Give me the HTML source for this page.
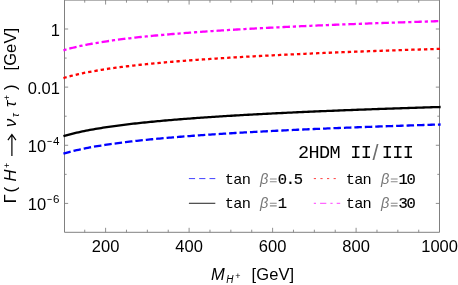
<!DOCTYPE html>
<html><head><meta charset="utf-8"><title>plot</title>
<style>
html,body{margin:0;padding:0;background:#ffffff;}
body{width:458px;height:285px;overflow:hidden;font-family:"Liberation Sans",sans-serif;}
svg{display:block;}
text{font-family:"Liberation Sans",sans-serif;fill:#000;}
.mono{font-family:"Liberation Mono",monospace;}
#wrap{width:458px;height:285px;will-change:transform;background:#ffffff;}
</style></head><body>
<div id="wrap">
<svg width="458" height="285" viewBox="0 0 458 285">
<rect x="0" y="0" width="458" height="285" fill="#ffffff"/>

<defs><clipPath id="c"><rect x="63.45" y="0" width="377.05" height="232.30"/></clipPath></defs>
<g stroke="#696969" stroke-width="0.85" fill="none" >
<path d="M64.5,0.1 H439.5 V232.3 H64.5 Z"/>
</g>
<g stroke="#7c7c7c" stroke-width="0.85" fill="none">
<path d="M84.72,232.30 v-2.60 M84.72,0.05 v2.60"/>
<path d="M105.60,232.30 v-4.50 M105.60,0.05 v4.50"/>
<path d="M126.47,232.30 v-2.60 M126.47,0.05 v2.60"/>
<path d="M147.35,232.30 v-2.60 M147.35,0.05 v2.60"/>
<path d="M168.22,232.30 v-2.60 M168.22,0.05 v2.60"/>
<path d="M189.10,232.30 v-4.50 M189.10,0.05 v4.50"/>
<path d="M209.97,232.30 v-2.60 M209.97,0.05 v2.60"/>
<path d="M230.85,232.30 v-2.60 M230.85,0.05 v2.60"/>
<path d="M251.72,232.30 v-2.60 M251.72,0.05 v2.60"/>
<path d="M272.60,232.30 v-4.50 M272.60,0.05 v4.50"/>
<path d="M293.48,232.30 v-2.60 M293.48,0.05 v2.60"/>
<path d="M314.35,232.30 v-2.60 M314.35,0.05 v2.60"/>
<path d="M335.23,232.30 v-2.60 M335.23,0.05 v2.60"/>
<path d="M356.10,232.30 v-4.50 M356.10,0.05 v4.50"/>
<path d="M376.98,232.30 v-2.60 M376.98,0.05 v2.60"/>
<path d="M397.85,232.30 v-2.60 M397.85,0.05 v2.60"/>
<path d="M418.73,232.30 v-2.60 M418.73,0.05 v2.60"/>
<path d="M64.45,29.00 h3.70 M439.50,29.00 h-3.70"/>
<path d="M64.45,58.07 h2.20 M439.50,58.07 h-2.20"/>
<path d="M64.45,87.14 h3.70 M439.50,87.14 h-3.70"/>
<path d="M64.45,116.21 h2.20 M439.50,116.21 h-2.20"/>
<path d="M64.45,145.28 h3.70 M439.50,145.28 h-3.70"/>
<path d="M64.45,174.35 h2.20 M439.50,174.35 h-2.20"/>
<path d="M64.45,203.42 h3.70 M439.50,203.42 h-3.70"/>
</g>
<g fill="none" stroke-width="2.30" stroke-linejoin="round">
<path d="M63.43,153.72 L65.32,153.15 L67.20,152.61 L69.09,152.09 L70.98,151.60 L72.86,151.12 L74.75,150.66 L76.63,150.21 L78.52,149.78 L80.41,149.37 L82.29,148.97 L84.18,148.58 L86.07,148.20 L87.95,147.83 L89.84,147.47 L91.72,147.13 L93.61,146.79 L95.50,146.46 L97.38,146.14 L99.27,145.83 L101.15,145.52 L103.04,145.23 L104.93,144.93 L106.81,144.65 L108.70,144.37 L110.58,144.10 L112.47,143.83 L114.36,143.57 L116.24,143.32 L118.13,143.07 L120.01,142.82 L121.90,142.58 L123.79,142.34 L125.67,142.11 L127.56,141.88 L129.44,141.66 L131.33,141.44 L133.22,141.22 L135.10,141.01 L136.99,140.80 L138.87,140.60 L140.76,140.39 L142.65,140.20 L144.53,140.00 L146.42,139.81 L148.31,139.62 L150.19,139.43 L152.08,139.24 L153.96,139.06 L155.85,138.88 L157.74,138.71 L159.62,138.53 L161.51,138.36 L163.39,138.19 L165.28,138.02 L167.17,137.86 L169.05,137.69 L170.94,137.53 L172.82,137.37 L174.71,137.22 L176.60,137.06 L178.48,136.91 L180.37,136.76 L182.25,136.61 L184.14,136.46 L186.03,136.31 L187.91,136.17 L189.80,136.03 L191.68,135.89 L193.57,135.75 L195.46,135.61 L197.34,135.47 L199.23,135.34 L201.11,135.20 L203.00,135.07 L204.89,134.94 L206.77,134.81 L208.66,134.68 L210.54,134.55 L212.43,134.43 L214.32,134.30 L216.20,134.18 L218.09,134.06 L219.98,133.94 L221.86,133.82 L223.75,133.70 L225.63,133.58 L227.52,133.47 L229.41,133.35 L231.29,133.24 L233.18,133.12 L235.06,133.01 L236.95,132.90 L238.84,132.79 L240.72,132.68 L242.61,132.57 L244.49,132.46 L246.38,132.36 L248.27,132.25 L250.15,132.15 L252.04,132.04 L253.92,131.94 L255.81,131.84 L257.70,131.74 L259.58,131.63 L261.47,131.53 L263.35,131.44 L265.24,131.34 L267.13,131.24 L269.01,131.14 L270.90,131.05 L272.78,130.95 L274.67,130.86 L276.56,130.76 L278.44,130.67 L280.33,130.58 L282.22,130.49 L284.10,130.39 L285.99,130.30 L287.87,130.21 L289.76,130.12 L291.65,130.04 L293.53,129.95 L295.42,129.86 L297.30,129.77 L299.19,129.69 L301.08,129.60 L302.96,129.52 L304.85,129.43 L306.73,129.35 L308.62,129.26 L310.51,129.18 L312.39,129.10 L314.28,129.02 L316.16,128.94 L318.05,128.86 L319.94,128.78 L321.82,128.70 L323.71,128.62 L325.59,128.54 L327.48,128.46 L329.37,128.38 L331.25,128.30 L333.14,128.23 L335.02,128.15 L336.91,128.08 L338.80,128.00 L340.68,127.93 L342.57,127.85 L344.45,127.78 L346.34,127.70 L348.23,127.63 L350.11,127.56 L352.00,127.48 L353.89,127.41 L355.77,127.34 L357.66,127.27 L359.54,127.20 L361.43,127.13 L363.32,127.06 L365.20,126.99 L367.09,126.92 L368.97,126.85 L370.86,126.78 L372.75,126.71 L374.63,126.65 L376.52,126.58 L378.40,126.51 L380.29,126.45 L382.18,126.38 L384.06,126.31 L385.95,126.25 L387.83,126.18 L389.72,126.12 L391.61,126.05 L393.49,125.99 L395.38,125.92 L397.26,125.86 L399.15,125.80 L401.04,125.73 L402.92,125.67 L404.81,125.61 L406.69,125.55 L408.58,125.49 L410.47,125.42 L412.35,125.36 L414.24,125.30 L416.13,125.24 L418.01,125.18 L419.90,125.12 L421.78,125.06 L423.67,125.00 L425.56,124.94 L427.44,124.88 L429.33,124.83 L431.21,124.77 L433.10,124.71 L434.99,124.65 L436.87,124.59 L438.76,124.54 L440.64,124.48" stroke="#0000ff" stroke-dasharray="7.5 2.95"/>
<path d="M63.43,136.21 L65.32,135.65 L67.20,135.11 L69.09,134.59 L70.98,134.10 L72.86,133.62 L74.75,133.16 L76.63,132.71 L78.52,132.28 L80.41,131.87 L82.29,131.46 L84.18,131.07 L86.07,130.70 L87.95,130.33 L89.84,129.97 L91.72,129.63 L93.61,129.29 L95.50,128.96 L97.38,128.64 L99.27,128.33 L101.15,128.02 L103.04,127.72 L104.93,127.43 L106.81,127.15 L108.70,126.87 L110.58,126.60 L112.47,126.33 L114.36,126.07 L116.24,125.82 L118.13,125.57 L120.01,125.32 L121.90,125.08 L123.79,124.84 L125.67,124.61 L127.56,124.38 L129.44,124.16 L131.33,123.94 L133.22,123.72 L135.10,123.51 L136.99,123.30 L138.87,123.10 L140.76,122.89 L142.65,122.69 L144.53,122.50 L146.42,122.30 L148.31,122.11 L150.19,121.93 L152.08,121.74 L153.96,121.56 L155.85,121.38 L157.74,121.20 L159.62,121.03 L161.51,120.86 L163.39,120.69 L165.28,120.52 L167.17,120.36 L169.05,120.19 L170.94,120.03 L172.82,119.87 L174.71,119.72 L176.60,119.56 L178.48,119.41 L180.37,119.26 L182.25,119.11 L184.14,118.96 L186.03,118.81 L187.91,118.67 L189.80,118.53 L191.68,118.38 L193.57,118.24 L195.46,118.11 L197.34,117.97 L199.23,117.83 L201.11,117.70 L203.00,117.57 L204.89,117.44 L206.77,117.31 L208.66,117.18 L210.54,117.05 L212.43,116.93 L214.32,116.80 L216.20,116.68 L218.09,116.56 L219.98,116.44 L221.86,116.32 L223.75,116.20 L225.63,116.08 L227.52,115.96 L229.41,115.85 L231.29,115.73 L233.18,115.62 L235.06,115.51 L236.95,115.40 L238.84,115.29 L240.72,115.18 L242.61,115.07 L244.49,114.96 L246.38,114.85 L248.27,114.75 L250.15,114.64 L252.04,114.54 L253.92,114.44 L255.81,114.33 L257.70,114.23 L259.58,114.13 L261.47,114.03 L263.35,113.93 L265.24,113.84 L267.13,113.74 L269.01,113.64 L270.90,113.54 L272.78,113.45 L274.67,113.35 L276.56,113.26 L278.44,113.17 L280.33,113.08 L282.22,112.98 L284.10,112.89 L285.99,112.80 L287.87,112.71 L289.76,112.62 L291.65,112.53 L293.53,112.45 L295.42,112.36 L297.30,112.27 L299.19,112.19 L301.08,112.10 L302.96,112.01 L304.85,111.93 L306.73,111.85 L308.62,111.76 L310.51,111.68 L312.39,111.60 L314.28,111.52 L316.16,111.43 L318.05,111.35 L319.94,111.27 L321.82,111.19 L323.71,111.11 L325.59,111.04 L327.48,110.96 L329.37,110.88 L331.25,110.80 L333.14,110.73 L335.02,110.65 L336.91,110.57 L338.80,110.50 L340.68,110.42 L342.57,110.35 L344.45,110.27 L346.34,110.20 L348.23,110.13 L350.11,110.06 L352.00,109.98 L353.89,109.91 L355.77,109.84 L357.66,109.77 L359.54,109.70 L361.43,109.63 L363.32,109.56 L365.20,109.49 L367.09,109.42 L368.97,109.35 L370.86,109.28 L372.75,109.21 L374.63,109.14 L376.52,109.08 L378.40,109.01 L380.29,108.94 L382.18,108.88 L384.06,108.81 L385.95,108.75 L387.83,108.68 L389.72,108.62 L391.61,108.55 L393.49,108.49 L395.38,108.42 L397.26,108.36 L399.15,108.30 L401.04,108.23 L402.92,108.17 L404.81,108.11 L406.69,108.05 L408.58,107.98 L410.47,107.92 L412.35,107.86 L414.24,107.80 L416.13,107.74 L418.01,107.68 L419.90,107.62 L421.78,107.56 L423.67,107.50 L425.56,107.44 L427.44,107.38 L429.33,107.32 L431.21,107.27 L433.10,107.21 L434.99,107.15 L436.87,107.09 L438.76,107.03 L440.64,106.98" stroke="#000000"/>
<path d="M63.43,78.07 L65.32,77.51 L67.20,76.97 L69.09,76.45 L70.98,75.96 L72.86,75.48 L74.75,75.02 L76.63,74.57 L78.52,74.14 L80.41,73.73 L82.29,73.32 L84.18,72.93 L86.07,72.56 L87.95,72.19 L89.84,71.83 L91.72,71.49 L93.61,71.15 L95.50,70.82 L97.38,70.50 L99.27,70.19 L101.15,69.88 L103.04,69.58 L104.93,69.29 L106.81,69.01 L108.70,68.73 L110.58,68.46 L112.47,68.19 L114.36,67.93 L116.24,67.68 L118.13,67.43 L120.01,67.18 L121.90,66.94 L123.79,66.70 L125.67,66.47 L127.56,66.24 L129.44,66.02 L131.33,65.80 L133.22,65.58 L135.10,65.37 L136.99,65.16 L138.87,64.96 L140.76,64.75 L142.65,64.55 L144.53,64.36 L146.42,64.16 L148.31,63.97 L150.19,63.79 L152.08,63.60 L153.96,63.42 L155.85,63.24 L157.74,63.06 L159.62,62.89 L161.51,62.72 L163.39,62.55 L165.28,62.38 L167.17,62.22 L169.05,62.05 L170.94,61.89 L172.82,61.73 L174.71,61.58 L176.60,61.42 L178.48,61.27 L180.37,61.12 L182.25,60.97 L184.14,60.82 L186.03,60.67 L187.91,60.53 L189.80,60.39 L191.68,60.24 L193.57,60.10 L195.46,59.97 L197.34,59.83 L199.23,59.69 L201.11,59.56 L203.00,59.43 L204.89,59.30 L206.77,59.17 L208.66,59.04 L210.54,58.91 L212.43,58.79 L214.32,58.66 L216.20,58.54 L218.09,58.42 L219.98,58.30 L221.86,58.18 L223.75,58.06 L225.63,57.94 L227.52,57.82 L229.41,57.71 L231.29,57.59 L233.18,57.48 L235.06,57.37 L236.95,57.26 L238.84,57.15 L240.72,57.04 L242.61,56.93 L244.49,56.82 L246.38,56.71 L248.27,56.61 L250.15,56.50 L252.04,56.40 L253.92,56.30 L255.81,56.19 L257.70,56.09 L259.58,55.99 L261.47,55.89 L263.35,55.79 L265.24,55.70 L267.13,55.60 L269.01,55.50 L270.90,55.40 L272.78,55.31 L274.67,55.21 L276.56,55.12 L278.44,55.03 L280.33,54.94 L282.22,54.84 L284.10,54.75 L285.99,54.66 L287.87,54.57 L289.76,54.48 L291.65,54.39 L293.53,54.31 L295.42,54.22 L297.30,54.13 L299.19,54.05 L301.08,53.96 L302.96,53.87 L304.85,53.79 L306.73,53.71 L308.62,53.62 L310.51,53.54 L312.39,53.46 L314.28,53.38 L316.16,53.29 L318.05,53.21 L319.94,53.13 L321.82,53.05 L323.71,52.97 L325.59,52.90 L327.48,52.82 L329.37,52.74 L331.25,52.66 L333.14,52.59 L335.02,52.51 L336.91,52.43 L338.80,52.36 L340.68,52.28 L342.57,52.21 L344.45,52.13 L346.34,52.06 L348.23,51.99 L350.11,51.92 L352.00,51.84 L353.89,51.77 L355.77,51.70 L357.66,51.63 L359.54,51.56 L361.43,51.49 L363.32,51.42 L365.20,51.35 L367.09,51.28 L368.97,51.21 L370.86,51.14 L372.75,51.07 L374.63,51.00 L376.52,50.94 L378.40,50.87 L380.29,50.80 L382.18,50.74 L384.06,50.67 L385.95,50.61 L387.83,50.54 L389.72,50.48 L391.61,50.41 L393.49,50.35 L395.38,50.28 L397.26,50.22 L399.15,50.16 L401.04,50.09 L402.92,50.03 L404.81,49.97 L406.69,49.91 L408.58,49.84 L410.47,49.78 L412.35,49.72 L414.24,49.66 L416.13,49.60 L418.01,49.54 L419.90,49.48 L421.78,49.42 L423.67,49.36 L425.56,49.30 L427.44,49.24 L429.33,49.18 L431.21,49.13 L433.10,49.07 L434.99,49.01 L436.87,48.95 L438.76,48.89 L440.64,48.84" stroke="#ff0000" stroke-dasharray="3.37 2.985"/>
<path d="M63.43,50.33 L65.32,49.77 L67.20,49.23 L69.09,48.71 L70.98,48.22 L72.86,47.74 L74.75,47.28 L76.63,46.83 L78.52,46.40 L80.41,45.99 L82.29,45.58 L84.18,45.19 L86.07,44.82 L87.95,44.45 L89.84,44.09 L91.72,43.75 L93.61,43.41 L95.50,43.08 L97.38,42.76 L99.27,42.45 L101.15,42.14 L103.04,41.84 L104.93,41.55 L106.81,41.27 L108.70,40.99 L110.58,40.72 L112.47,40.45 L114.36,40.19 L116.24,39.94 L118.13,39.69 L120.01,39.44 L121.90,39.20 L123.79,38.96 L125.67,38.73 L127.56,38.50 L129.44,38.28 L131.33,38.06 L133.22,37.84 L135.10,37.63 L136.99,37.42 L138.87,37.22 L140.76,37.01 L142.65,36.81 L144.53,36.62 L146.42,36.42 L148.31,36.23 L150.19,36.05 L152.08,35.86 L153.96,35.68 L155.85,35.50 L157.74,35.32 L159.62,35.15 L161.51,34.98 L163.39,34.81 L165.28,34.64 L167.17,34.48 L169.05,34.31 L170.94,34.15 L172.82,33.99 L174.71,33.84 L176.60,33.68 L178.48,33.53 L180.37,33.38 L182.25,33.23 L184.14,33.08 L186.03,32.93 L187.91,32.79 L189.80,32.65 L191.68,32.50 L193.57,32.36 L195.46,32.23 L197.34,32.09 L199.23,31.95 L201.11,31.82 L203.00,31.69 L204.89,31.56 L206.77,31.43 L208.66,31.30 L210.54,31.17 L212.43,31.05 L214.32,30.92 L216.20,30.80 L218.09,30.68 L219.98,30.56 L221.86,30.44 L223.75,30.32 L225.63,30.20 L227.52,30.08 L229.41,29.97 L231.29,29.85 L233.18,29.74 L235.06,29.63 L236.95,29.52 L238.84,29.41 L240.72,29.30 L242.61,29.19 L244.49,29.08 L246.38,28.97 L248.27,28.87 L250.15,28.76 L252.04,28.66 L253.92,28.56 L255.81,28.45 L257.70,28.35 L259.58,28.25 L261.47,28.15 L263.35,28.05 L265.24,27.96 L267.13,27.86 L269.01,27.76 L270.90,27.66 L272.78,27.57 L274.67,27.48 L276.56,27.38 L278.44,27.29 L280.33,27.20 L282.22,27.10 L284.10,27.01 L285.99,26.92 L287.87,26.83 L289.76,26.74 L291.65,26.65 L293.53,26.57 L295.42,26.48 L297.30,26.39 L299.19,26.31 L301.08,26.22 L302.96,26.13 L304.85,26.05 L306.73,25.97 L308.62,25.88 L310.51,25.80 L312.39,25.72 L314.28,25.64 L316.16,25.55 L318.05,25.47 L319.94,25.39 L321.82,25.31 L323.71,25.23 L325.59,25.16 L327.48,25.08 L329.37,25.00 L331.25,24.92 L333.14,24.85 L335.02,24.77 L336.91,24.69 L338.80,24.62 L340.68,24.54 L342.57,24.47 L344.45,24.39 L346.34,24.32 L348.23,24.25 L350.11,24.18 L352.00,24.10 L353.89,24.03 L355.77,23.96 L357.66,23.89 L359.54,23.82 L361.43,23.75 L363.32,23.68 L365.20,23.61 L367.09,23.54 L368.97,23.47 L370.86,23.40 L372.75,23.33 L374.63,23.27 L376.52,23.20 L378.40,23.13 L380.29,23.06 L382.18,23.00 L384.06,22.93 L385.95,22.87 L387.83,22.80 L389.72,22.74 L391.61,22.67 L393.49,22.61 L395.38,22.54 L397.26,22.48 L399.15,22.42 L401.04,22.35 L402.92,22.29 L404.81,22.23 L406.69,22.17 L408.58,22.10 L410.47,22.04 L412.35,21.98 L414.24,21.92 L416.13,21.86 L418.01,21.80 L419.90,21.74 L421.78,21.68 L423.67,21.62 L425.56,21.56 L427.44,21.50 L429.33,21.44 L431.21,21.39 L433.10,21.33 L434.99,21.27 L436.87,21.21 L438.76,21.16 L440.64,21.10" stroke="#ff00ff" stroke-dasharray="3.2 2.9 7.5 2.9" stroke-dashoffset="0"/>
</g>
<text x="105.60" y="252.45" font-size="16.5" text-anchor="middle">200</text>
<text x="189.10" y="252.45" font-size="16.5" text-anchor="middle">400</text>
<text x="272.60" y="252.45" font-size="16.5" text-anchor="middle">600</text>
<text x="356.10" y="252.45" font-size="16.5" text-anchor="middle">800</text>
<text x="439.60" y="252.45" font-size="16.5" text-anchor="middle">1000</text>
<text x="60.0" y="35.50" font-size="16.5" text-anchor="end">1</text>
<text x="59.9" y="93.64" font-size="16.5" text-anchor="end">0.01</text>
<text x="46.1" y="151.78" font-size="16.5" text-anchor="end">10</text><text transform="translate(46.9,144.88) scale(0.78,1)" font-size="11.6">−</text><text x="53.0" y="145.28" font-size="11.6">4</text>
<text x="46.1" y="209.92" font-size="16.5" text-anchor="end">10</text><text transform="translate(46.9,203.02) scale(0.78,1)" font-size="11.6">−</text><text x="53.0" y="203.42" font-size="11.6">6</text>
<text x="211" y="280" font-size="16.5" font-style="italic">M</text><text x="226.3" y="282.7" font-size="10" font-style="italic">H</text><text x="235.2" y="278.9" font-size="9">+</text><text x="251.6" y="280" font-size="16.5" letter-spacing="0.1">[GeV]</text>
<g transform="translate(16.4,204) rotate(-90)">
<text x="0.7" y="0" font-size="16.5">Γ</text>
<text x="11.5" y="0" font-size="16.5">(</text>
<text x="22.4" y="0" font-size="16.5" font-style="italic">H</text>
<text x="36.1" y="-6.6" font-size="9">+</text>
<path d="M48,-4.5 H69 M63.8,-8.5 L69.5,-4.5 L63.8,-0.5" stroke="#000" stroke-width="1.2" fill="none"/>
<text x="77" y="0" font-size="16.5" font-style="italic">ν</text>
<text x="87" y="3" font-size="10" font-style="italic">τ</text>
<text x="97" y="0" font-size="16.5" font-style="italic">τ</text>
<text x="103.8" y="-6.0" font-size="9">+</text>
<text x="114" y="0" font-size="16.5">)</text>
<text x="133.5" y="0" font-size="16.5" letter-spacing="0.1">[GeV]</text>
</g>
<text class="mono" x="298.0" y="158" font-size="18.5" letter-spacing="-0.63">2HDM II</text>
<text x="372.4" y="160.2" font-size="21.5" style="fill:#6e6e6e">/</text>
<text class="mono" x="381.7" y="158" font-size="18.5" letter-spacing="-0.63">III</text>
<path d="M188.9,178.60 h26.4" stroke="#0000ff" stroke-width="0.75" fill="none" stroke-dasharray="6.2 4.1"/><text class="mono" transform="translate(224.8,183.8) scale(1.08,1)" font-size="14.2" letter-spacing="-0.69">tan</text><text x="260.0" y="183.8" font-size="14.5" font-style="italic" style="fill:#777">β</text><path d="M269.9,179.0 h6.8 M269.9,181.7 h6.8" stroke="#8a8a8a" stroke-width="1.1" fill="none"/><text class="mono" transform="translate(277.7,183.8) scale(1.06,1)" font-size="14.6" stroke="#000" stroke-width="0.2" letter-spacing="-1.21">0.5</text>
<path d="M188.9,203.30 h26.4" stroke="#333333" stroke-width="1.1" fill="none" /><text class="mono" transform="translate(224.8,208.0) scale(1.08,1)" font-size="14.2" letter-spacing="-0.69">tan</text><text x="260.0" y="208.0" font-size="14.5" font-style="italic" style="fill:#777">β</text><path d="M269.9,203.2 h6.8 M269.9,205.9 h6.8" stroke="#8a8a8a" stroke-width="1.1" fill="none"/><text class="mono" transform="translate(277.7,208.0) scale(1.06,1)" font-size="14.6" stroke="#000" stroke-width="0.2" letter-spacing="-1.21">1</text>
<path d="M313.8,178.60 h26.4" stroke="#ff0000" stroke-width="0.75" fill="none" stroke-dasharray="2.2 4.4"/><text class="mono" transform="translate(345.7,183.8) scale(1.08,1)" font-size="14.2" letter-spacing="-0.69">tan</text><text x="380.9" y="183.8" font-size="14.5" font-style="italic" style="fill:#777">β</text><path d="M390.8,179.0 h6.8 M390.8,181.7 h6.8" stroke="#8a8a8a" stroke-width="1.1" fill="none"/><text class="mono" transform="translate(398.6,183.8) scale(1.06,1)" font-size="14.6" stroke="#000" stroke-width="0.2" letter-spacing="-1.21">10</text>
<path d="M313.8,203.30 h26.4" stroke="#ff00ff" stroke-width="0.75" fill="none" stroke-dasharray="2.2 4.1 6.2 4.1"/><text class="mono" transform="translate(345.7,208.0) scale(1.08,1)" font-size="14.2" letter-spacing="-0.69">tan</text><text x="380.9" y="208.0" font-size="14.5" font-style="italic" style="fill:#777">β</text><path d="M390.8,203.2 h6.8 M390.8,205.9 h6.8" stroke="#8a8a8a" stroke-width="1.1" fill="none"/><text class="mono" transform="translate(398.6,208.0) scale(1.06,1)" font-size="14.6" stroke="#000" stroke-width="0.2" letter-spacing="-1.21">30</text>
</svg>
</div>
</body></html>
